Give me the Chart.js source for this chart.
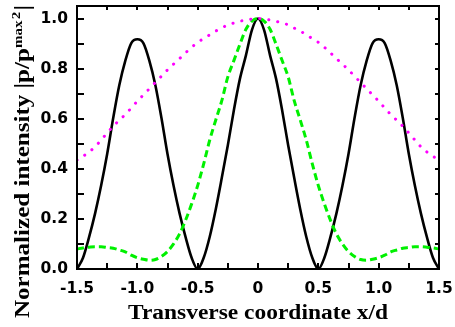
<!DOCTYPE html>
<html><head><meta charset="utf-8">
<script src="https://cdn.jsdelivr.net/npm/chart.js@4"></script>
<style>html,body{margin:0;padding:0;background:#fff}#c{display:block}</style>
</head><body>
<canvas id="c" width="455" height="327"></canvas>
<script>
const xValues = [-1.5,-1.45,-1.4,-1.35,-1.3,-1.25,-1.2,-1.15,-1.1,-1.05,-1.0,-0.95,-0.9,-0.85,-0.8,-0.75,-0.7,-0.65,-0.6,-0.55,-0.5,-0.45,-0.4,-0.35,-0.3,-0.25,-0.2,-0.15,-0.1,-0.05,0,0.05,0.1,0.15,0.2,0.25,0.3,0.35,0.4,0.45,0.5,0.55,0.6,0.65,0.7,0.75,0.8,0.85,0.9,0.95,1.0,1.05,1.1,1.15,1.2,1.25,1.3,1.35,1.4,1.45,1.5];
const solidSeries = [0,0.045,0.127,0.222,0.333,0.459,0.603,0.733,0.831,0.902,0.917,0.902,0.831,0.733,0.603,0.459,0.333,0.222,0.127,0.045,0,0.045,0.129,0.239,0.364,0.494,0.634,0.759,0.853,0.955,1.0,0.955,0.853,0.759,0.634,0.494,0.364,0.239,0.129,0.045,0,0.045,0.127,0.222,0.333,0.459,0.603,0.733,0.831,0.902,0.917,0.902,0.831,0.733,0.603,0.459,0.333,0.222,0.127,0.045,0];
const dashedSeries = [0.08,0.084,0.087,0.089,0.089,0.086,0.083,0.076,0.068,0.055,0.045,0.039,0.035,0.038,0.05,0.07,0.10,0.14,0.195,0.26,0.333,0.42,0.515,0.595,0.672,0.767,0.832,0.897,0.957,0.99,1.0,0.99,0.957,0.897,0.832,0.767,0.672,0.595,0.515,0.42,0.333,0.26,0.195,0.14,0.10,0.07,0.05,0.038,0.035,0.039,0.045,0.055,0.068,0.076,0.083,0.086,0.089,0.089,0.087,0.084,0.08];
const dottedSeries = [0.435,0.45,0.467,0.488,0.515,0.543,0.57,0.594,0.617,0.643,0.67,0.695,0.72,0.745,0.77,0.795,0.818,0.84,0.863,0.885,0.905,0.92,0.935,0.95,0.962,0.975,0.982,0.989,0.994,0.998,1.0,0.998,0.994,0.989,0.982,0.975,0.962,0.95,0.935,0.92,0.905,0.885,0.863,0.84,0.818,0.795,0.77,0.745,0.72,0.695,0.67,0.643,0.617,0.594,0.57,0.543,0.515,0.488,0.467,0.45,0.435];
const xTicks = [-1.5,-1.0,-0.5,0,0.5,1.0,1.5];
const xTickLabels = ['-1.5','-1.0','-0.5','0','0.5','1.0','1.5'];
const xMinorTicks = [-1.25,-0.75,-0.25,0.25,0.75,1.25];
const yTicks = [0,0.2,0.4,0.6,0.8,1.0];
const yTickLabels = ['0.0','0.2','0.4','0.6','0.8','1.0'];
const yMinorTicks = [0.1,0.3,0.5,0.7,0.9];
const xTitle = 'Transverse coordinate x/d';
const yTitleParts = ['Normalized intensity |p/p','max','2','|'];

const pts = arr => xValues.map((x,i)=>({x:x,y:arr[i]}));
const labelFor = (vals, labels, v) => { const i = vals.findIndex(t=>Math.abs(t-v)<1e-9); return i<0?'':labels[i]; };
const zeroPad = s => { s.paddingTop=0; s.paddingBottom=0; s.paddingLeft=0; s.paddingRight=0; };

const frameTicks = {
  id:'frameTicks',
  afterDraw(chart){
    const {ctx, chartArea:a, scales:{x,y}} = chart;
    ctx.save();
    ctx.strokeStyle='#000'; ctx.lineWidth=2;
    ctx.beginPath();
    xTicks.concat(xMinorTicks).forEach(v=>{ const px=Math.round(x.getPixelForValue(v));
      ctx.moveTo(px,a.bottom); ctx.lineTo(px,a.bottom-6);
      ctx.moveTo(px,a.top); ctx.lineTo(px,a.top+4); });
    yTicks.concat(yMinorTicks).forEach(v=>{ const py=Math.round(y.getPixelForValue(v));
      ctx.moveTo(a.left,py); ctx.lineTo(a.left+7,py);
      ctx.moveTo(a.right,py); ctx.lineTo(a.right-4,py); });
    ctx.stroke();
    ctx.strokeRect(a.left, a.top, a.right-a.left, a.bottom-a.top);
    ctx.fillStyle='#000'; ctx.textBaseline='alphabetic'; ctx.textAlign='left';
    const serif='"Liberation Serif", "Times New Roman", serif';
    // x title
    ctx.save();
    ctx.font='bold 20px '+serif;
    const xw=ctx.measureText(xTitle).width, xs=260/xw;
    ctx.translate((a.left+a.right)/2, 319); ctx.scale(xs,1);
    ctx.fillText(xTitle,-xw/2,0);
    ctx.restore();
    // y title
    const big='bold 20px '+serif, small='bold 12px '+serif;
    const parts=[{t:yTitleParts[0],f:big,dy:0},{t:yTitleParts[1],f:small,dy:-7},{t:yTitleParts[2],f:small,dy:-9,gap:1},{t:yTitleParts[3],f:big,dy:0,gap:1}];
    let total=0; parts.forEach(p=>{ctx.font=p.f; p.w=ctx.measureText(p.t).width; total+=p.w+(p.gap||0);});
    const ys=313/total;
    ctx.translate(28.5,161.5); ctx.rotate(-Math.PI/2); ctx.scale(ys,1);
    let cx=-total/2;
    parts.forEach(p=>{ cx+=(p.gap||0); ctx.font=p.f; ctx.fillText(p.t,cx,p.dy); cx+=p.w; });
    ctx.restore();
  }
};

const tickFont = {family:'"DejaVu Sans", sans-serif', size:15.5, weight:'bold'};

new Chart(document.getElementById('c'), {
  type:'line',
  data:{ datasets:[
    {data:pts(dottedSeries), borderColor:'#ff00ff', borderWidth:3, borderDash:[0.1,9], borderCapStyle:'round', pointRadius:0, cubicInterpolationMode:'monotone', fill:false},
    {data:pts(dashedSeries), borderColor:'#00f000', borderWidth:3, borderDash:[7,4], pointRadius:0, cubicInterpolationMode:'monotone', fill:false},
    {data:pts(solidSeries), borderColor:'#000000', borderWidth:2.6, pointRadius:0, cubicInterpolationMode:'monotone', fill:false}
  ]},
  options:{
    responsive:false, animation:false, devicePixelRatio:1,
    layout:{padding:{top:6,right:16,left:0,bottom:0}},
    plugins:{legend:{display:false}, tooltip:{enabled:false}},
    scales:{
      x:{type:'linear', min:-1.5, max:1.5,
        afterBuildTicks: s=>{ s.ticks = xTicks.map(v=>({value:v})); },
        afterFit: s=>{ s.height=58; zeroPad(s); },
        grid:{display:false, drawTicks:false}, border:{display:false},
        ticks:{padding:11, color:'#000', font:tickFont, maxRotation:0, autoSkip:false,
          callback: v=>labelFor(xTicks,xTickLabels,v)},
        title:{display:false}
      },
      y:{type:'linear', min:0, max:1.05,
        afterBuildTicks: s=>{ s.ticks = yTicks.map(v=>({value:v})); },
        afterFit: s=>{ s.width=77; zeroPad(s); },
        grid:{display:false, drawTicks:false}, border:{display:false},
        ticks:{padding:9, color:'#000', font:tickFont, autoSkip:false,
          callback: v=>labelFor(yTicks,yTickLabels,v)}
      }
    }
  },
  plugins:[frameTicks]
});
</script>
</body></html>
